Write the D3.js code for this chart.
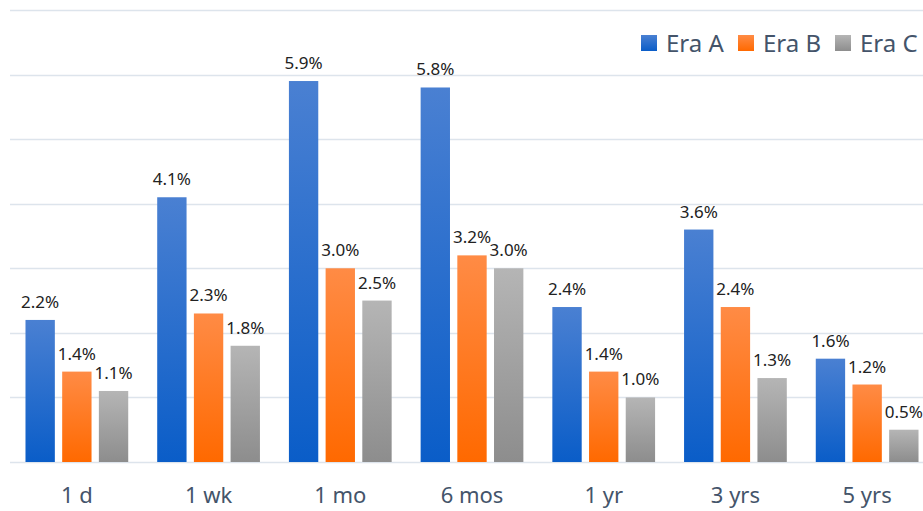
<!DOCTYPE html>
<html>
<head>
<meta charset="utf-8">
<script src="https://cdn.jsdelivr.net/npm/d3@7/dist/d3.min.js"></script>
<style>
  html, body { margin: 0; padding: 0; background: #fff; }
  svg { display: block; }
</style>
</head>
<body>
<svg id="chart" width="923" height="511"></svg>
<script>
// Holding periods and the share for each era, in percent
const categories = ["1 d", "1 wk", "1 mo", "6 mos", "1 yr", "3 yrs", "5 yrs"];
const seriesNames = ["Era A", "Era B", "Era C"];
const eraA = [2.2, 4.1, 5.9, 5.8, 2.4, 3.6, 1.6];
const eraB = [1.4, 2.3, 3.0, 3.2, 1.4, 2.4, 1.2];
const eraC = [1.1, 1.8, 2.5, 3.0, 1.0, 1.3, 0.5];
const yTicks = [0, 1, 2, 3, 4, 5, 6, 7];

const seriesValues = [eraA, eraB, eraC];
const palette = [
  { top: "#4a80d2", bottom: "#0a5dc8" },
  { top: "#ff8b45", bottom: "#ff6900" },
  { top: "#b5b5b5", bottom: "#8d8d8d" }
];

const svg = d3.select("#chart");
const margin = { left: 11, right: -10, top: 10, bottom: 49 };
const W = 923, H = 511;

const x = d3.scaleBand()
  .domain(categories)
  .range([margin.left, W - margin.right])
  .paddingInner(0.22)
  .paddingOuter(0.11);

const xs = d3.scaleBand()
  .domain(seriesNames)
  .range([0, x.bandwidth()])
  .paddingInner(0.2);

const y = d3.scaleLinear()
  .domain([0, 7])
  .range([H - margin.bottom, margin.top]);

// per-bar vertical gradients
const defs = svg.append("defs");
palette.forEach((p, i) => {
  const g = defs.append("linearGradient")
    .attr("id", "grad" + i)
    .attr("x1", 0).attr("y1", 0).attr("x2", 0).attr("y2", 1);
  g.append("stop").attr("offset", "0%").attr("stop-color", p.top);
  g.append("stop").attr("offset", "100%").attr("stop-color", p.bottom);
});

// horizontal gridlines
svg.append("g")
  .selectAll("line")
  .data(yTicks)
  .join("line")
  .attr("x1", 10).attr("x2", W)
  .attr("y1", d => Math.round(y(d)) + 0.5)
  .attr("y2", d => Math.round(y(d)) + 0.5)
  .attr("stroke", "#dde4ec")
  .attr("stroke-width", 1.5);

// bars
const rows = [];
categories.forEach((c, ci) => {
  seriesNames.forEach((s, si) => {
    rows.push({ cat: c, series: s, si, value: seriesValues[si][ci] });
  });
});

const groups = svg.append("g");
groups.selectAll("rect")
  .data(rows)
  .join("rect")
  .attr("x", d => x(d.cat) + xs(d.series))
  .attr("y", d => y(d.value))
  .attr("width", xs.bandwidth())
  .attr("height", d => y(0) - y(d.value))
  .attr("fill", d => `url(#grad${d.si})`);

// value labels
groups.selectAll("text")
  .data(rows)
  .join("text")
  .attr("x", d => x(d.cat) + xs(d.series) + xs.bandwidth() / 2)
  .attr("y", d => y(d.value) - 12)
  .attr("text-anchor", "middle")
  .attr("font-family", "Noto Sans, sans-serif")
  .attr("font-size", 17)
  .attr("fill", "#222")
  .text(d => d.value.toFixed(1) + "%");

// category axis
const xAxis = svg.append("g")
  .attr("transform", `translate(0,${y(0)})`)
  .call(d3.axisBottom(x).tickSize(0).tickPadding(25));
xAxis.select(".domain").remove();
xAxis.selectAll("text")
  .attr("font-family", "Noto Sans, sans-serif")
  .attr("font-size", 22)
  .attr("fill", "#44546a");

// legend
const legendX = [641, 738, 835];
const legend = svg.append("g")
  .selectAll("g")
  .data(seriesNames)
  .join("g")
  .attr("transform", (d, i) => `translate(${legendX[i]},35)`);
legend.append("rect")
  .attr("width", 16).attr("height", 16)
  .attr("fill", (d, i) => `url(#grad${i})`);
legend.append("text")
  .attr("x", 25).attr("y", 17)
  .attr("font-family", "Noto Sans, sans-serif")
  .attr("font-size", 24)
  .attr("fill", "#44546a")
  .text(d => d);
</script>
</body>
</html>
